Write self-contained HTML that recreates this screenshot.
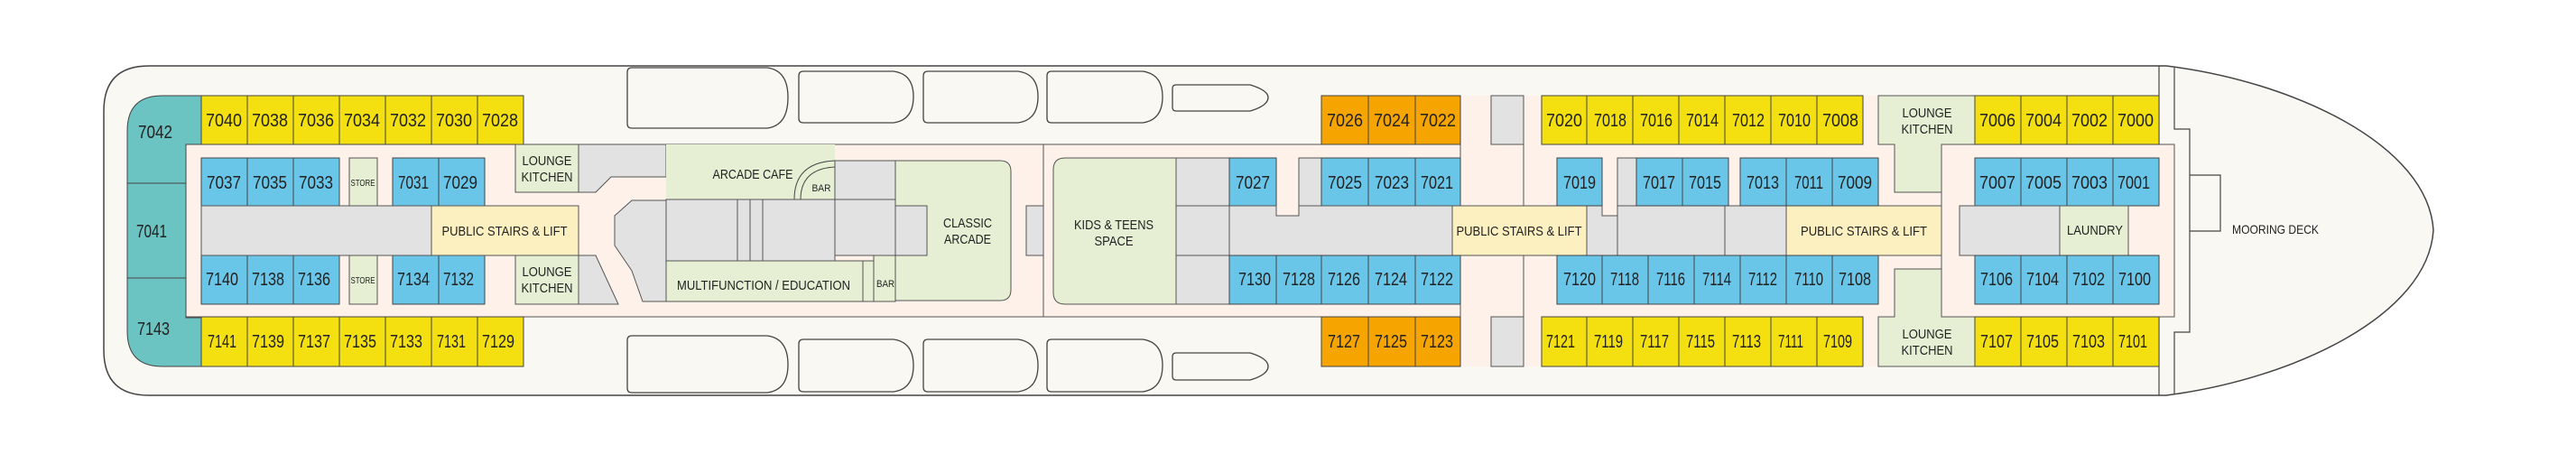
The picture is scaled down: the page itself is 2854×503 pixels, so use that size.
<!DOCTYPE html>
<html><head><meta charset="utf-8"><style>
html,body{margin:0;padding:0;background:#fff}
svg{display:block}
text{font-family:"Liberation Sans Narrow","Liberation Sans",sans-serif;fill:#222}
.r{font-size:20px;text-anchor:middle}
.l{font-size:15px;text-anchor:middle}
.s{font-size:10px;text-anchor:middle}
.y{fill:#f4e010;stroke:#444;stroke-width:1}
.b{fill:#6ac6e8;stroke:#444;stroke-width:1}
.o{fill:#f5a400;stroke:#444;stroke-width:1}
.g{fill:#e2e2e2;stroke:#555;stroke-width:1}
.gr{fill:#e6efd4;stroke:#555;stroke-width:1}
.st{fill:#fcefc0;stroke:#555;stroke-width:1}
.p{fill:#fdf1ea;stroke:#555;stroke-width:1}
.bt{fill:#faf8f2;stroke:#444;stroke-width:1.3}
</style></head><body>
<svg width="2854" height="503" viewBox="0 0 2854 503" xmlns="http://www.w3.org/2000/svg">
<!-- hull -->
<path d="M165,73 H2400 C2540,90 2690,160 2696,255 C2690,350 2540,420 2400,438 H165 Q115,438 115,388 V123 Q115,73 165,73 Z" fill="#faf8f2" stroke="#444" stroke-width="1.5"/>
<line x1="2392" y1="73" x2="2392" y2="438" stroke="#444" stroke-width="1.2"/>
<path d="M2409,75 V143 H2426 V368 H2409 V436" fill="none" stroke="#444" stroke-width="1.2"/>
<path d="M2426,194 H2460 V256 H2426" fill="none" stroke="#444" stroke-width="1.2"/>
<text class="l" x="2521" y="259" textLength="96" lengthAdjust="spacingAndGlyphs" style="font-size:14px">MOORING DECK</text>

<!-- lifeboats top -->
<path class="bt" d="M700,75 H850 Q873,78 873,108 Q873,139 850,142 H700 Q695,142 695,137 V80 Q695,75 700,75 Z"/>
<path class="bt" d="M890,79 H990 Q1012,82 1012,107 Q1012,133 990,136 H890 Q885,136 885,131 V84 Q885,79 890,79 Z"/>
<path class="bt" d="M1028,79 H1128 Q1150,82 1150,107 Q1150,133 1128,136 H1028 Q1023,136 1023,131 V84 Q1023,79 1028,79 Z"/>
<path class="bt" d="M1165,79 H1266 Q1288,82 1288,107 Q1288,133 1266,136 H1165 Q1160,136 1160,131 V84 Q1160,79 1165,79 Z"/>
<path class="bt" d="M1303,94 H1385 Q1405,100 1405,108 Q1405,117 1385,123 H1303 Q1299,123 1299,119 V98 Q1299,94 1303,94 Z"/>
<!-- lifeboats bottom -->
<path class="bt" d="M700,372 H850 Q873,375 873,404 Q873,432 850,435 H700 Q695,435 695,430 V377 Q695,372 700,372 Z"/>
<path class="bt" d="M890,376 H990 Q1012,379 1012,405 Q1012,431 990,434 H890 Q885,434 885,429 V381 Q885,376 890,376 Z"/>
<path class="bt" d="M1028,376 H1128 Q1150,379 1150,405 Q1150,431 1128,434 H1028 Q1023,434 1023,429 V381 Q1023,376 1028,376 Z"/>
<path class="bt" d="M1165,376 H1266 Q1288,379 1288,405 Q1288,431 1266,434 H1165 Q1160,434 1160,429 V381 Q1160,376 1165,376 Z"/>
<path class="bt" d="M1303,391 H1385 Q1405,397 1405,406 Q1405,415 1385,421 H1303 Q1299,421 1299,417 V395 Q1299,391 1303,391 Z"/>

<!-- corridor peach -->
<rect class="p" x="206" y="160" width="1945" height="191"/>
<rect x="1618" y="106" width="90" height="300" fill="#fdf1ea"/>
<rect x="2064" y="106" width="17" height="300" fill="#fdf1ea"/>
<line x1="1618" y1="106" x2="1618" y2="406" stroke="#555"/>
<line x1="1688" y1="106" x2="1688" y2="406" stroke="#555"/>
<line x1="1156" y1="160" x2="1156" y2="351" stroke="#555"/>
<rect class="p" x="2151" y="160" width="258" height="191"/>

<!-- teal aft -->
<path d="M180,106 H223 V160 H206 V352 H223 V406 H180 Q141,406 141,367 V145 Q141,106 180,106 Z" fill="#6cc4c2" stroke="#444"/>
<line x1="141" y1="203" x2="206" y2="203" stroke="#444"/>
<line x1="141" y1="308" x2="206" y2="308" stroke="#444"/>
<text class="r" x="172" y="153" textLength="38" lengthAdjust="spacingAndGlyphs">7042</text>
<text class="r" x="168" y="263" textLength="34" lengthAdjust="spacingAndGlyphs">7041</text>
<text class="r" x="170" y="371" textLength="36" lengthAdjust="spacingAndGlyphs">7143</text>

<!-- left yellow rows -->
<g>
<rect class="y" x="223" y="106" width="51" height="54"/><text class="r" x="248" y="140" textLength="40" lengthAdjust="spacingAndGlyphs">7040</text>
<rect class="y" x="274" y="106" width="51" height="54"/><text class="r" x="299" y="140" textLength="40" lengthAdjust="spacingAndGlyphs">7038</text>
<rect class="y" x="325" y="106" width="51" height="54"/><text class="r" x="350" y="140" textLength="40" lengthAdjust="spacingAndGlyphs">7036</text>
<rect class="y" x="376" y="106" width="51" height="54"/><text class="r" x="401" y="140" textLength="40" lengthAdjust="spacingAndGlyphs">7034</text>
<rect class="y" x="427" y="106" width="51" height="54"/><text class="r" x="452" y="140" textLength="40" lengthAdjust="spacingAndGlyphs">7032</text>
<rect class="y" x="478" y="106" width="51" height="54"/><text class="r" x="503" y="140" textLength="40" lengthAdjust="spacingAndGlyphs">7030</text>
<rect class="y" x="529" y="106" width="51" height="54"/><text class="r" x="554" y="140" textLength="40" lengthAdjust="spacingAndGlyphs">7028</text>

<rect class="y" x="223" y="351" width="51" height="55"/><text class="r" x="246" y="385" textLength="32" lengthAdjust="spacingAndGlyphs">7141</text>
<rect class="y" x="274" y="351" width="51" height="55"/><text class="r" x="297" y="385" textLength="36" lengthAdjust="spacingAndGlyphs">7139</text>
<rect class="y" x="325" y="351" width="51" height="55"/><text class="r" x="348" y="385" textLength="36" lengthAdjust="spacingAndGlyphs">7137</text>
<rect class="y" x="376" y="351" width="51" height="55"/><text class="r" x="399" y="385" textLength="36" lengthAdjust="spacingAndGlyphs">7135</text>
<rect class="y" x="427" y="351" width="51" height="55"/><text class="r" x="450" y="385" textLength="36" lengthAdjust="spacingAndGlyphs">7133</text>
<rect class="y" x="478" y="351" width="51" height="55"/><text class="r" x="500" y="385" textLength="32" lengthAdjust="spacingAndGlyphs">7131</text>
<rect class="y" x="529" y="351" width="51" height="55"/><text class="r" x="552" y="385" textLength="36" lengthAdjust="spacingAndGlyphs">7129</text>
</g>

<!-- left blue rows -->
<g>
<rect class="b" x="223" y="175" width="51" height="53"/><text class="r" x="248" y="209" textLength="38" lengthAdjust="spacingAndGlyphs">7037</text>
<rect class="b" x="274" y="175" width="51" height="53"/><text class="r" x="299" y="209" textLength="38" lengthAdjust="spacingAndGlyphs">7035</text>
<rect class="b" x="325" y="175" width="51" height="53"/><text class="r" x="350" y="209" textLength="38" lengthAdjust="spacingAndGlyphs">7033</text>
<rect class="gr" x="387" y="175" width="31" height="53"/><text class="s" x="402" y="206" textLength="27" lengthAdjust="spacingAndGlyphs">STORE</text>
<rect class="b" x="435" y="175" width="51" height="53"/><text class="r" x="458" y="209" textLength="34" lengthAdjust="spacingAndGlyphs">7031</text>
<rect class="b" x="486" y="175" width="51" height="53"/><text class="r" x="510" y="209" textLength="38" lengthAdjust="spacingAndGlyphs">7029</text>

<rect class="b" x="223" y="283" width="51" height="54"/><text class="r" x="246" y="316" textLength="36" lengthAdjust="spacingAndGlyphs">7140</text>
<rect class="b" x="274" y="283" width="51" height="54"/><text class="r" x="297" y="316" textLength="36" lengthAdjust="spacingAndGlyphs">7138</text>
<rect class="b" x="325" y="283" width="51" height="54"/><text class="r" x="348" y="316" textLength="36" lengthAdjust="spacingAndGlyphs">7136</text>
<rect class="gr" x="387" y="283" width="31" height="54"/><text class="s" x="402" y="314" textLength="27" lengthAdjust="spacingAndGlyphs">STORE</text>
<rect class="b" x="435" y="283" width="51" height="54"/><text class="r" x="458" y="316" textLength="36" lengthAdjust="spacingAndGlyphs">7134</text>
<rect class="b" x="486" y="283" width="51" height="54"/><text class="r" x="508" y="316" textLength="34" lengthAdjust="spacingAndGlyphs">7132</text>
</g>

<!-- left middle -->
<rect class="g" x="223" y="228" width="255" height="55"/>
<rect class="st" x="478" y="228" width="163" height="55"/>
<text class="l" x="559" y="261" textLength="139" lengthAdjust="spacingAndGlyphs">PUBLIC STAIRS &amp; LIFT</text>

<rect class="gr" x="571" y="160" width="70" height="53"/>
<text class="l" x="606" y="183" textLength="55" lengthAdjust="spacingAndGlyphs">LOUNGE</text>
<text class="l" x="606" y="201" textLength="57" lengthAdjust="spacingAndGlyphs">KITCHEN</text>
<rect class="gr" x="571" y="283" width="70" height="54"/>
<text class="l" x="606" y="306" textLength="55" lengthAdjust="spacingAndGlyphs">LOUNGE</text>
<text class="l" x="606" y="324" textLength="57" lengthAdjust="spacingAndGlyphs">KITCHEN</text>
<path class="g" d="M641,160 H738 V196 H677 L660,213 H641 Z"/>
<path class="g" d="M641,283 H660 L685,337 H641 Z"/>

<!-- arcade area -->
<rect class="gr" x="738" y="160" width="187" height="61" style="stroke:none"/>
<text class="l" x="834" y="198" textLength="89" lengthAdjust="spacingAndGlyphs">ARCADE CAFE</text>
<path d="M880,221 Q880,180 925,178" fill="none" stroke="#444"/>
<path d="M887,221 Q887,187 925,185" fill="none" stroke="#444"/>
<text class="s" x="910" y="212" style="font-size:11px" textLength="21" lengthAdjust="spacingAndGlyphs">BAR</text>
<rect class="g" x="925" y="178" width="67" height="43"/>
<path class="gr" d="M992,178 H1108 Q1120,178 1120,190 V321 Q1120,333 1108,333 H992 Z"/>
<rect class="g" x="992" y="228" width="35" height="55"/>
<text class="l" x="1072" y="252" textLength="54" lengthAdjust="spacingAndGlyphs">CLASSIC</text>
<text class="l" x="1072" y="270" textLength="52" lengthAdjust="spacingAndGlyphs">ARCADE</text>
<path class="g" d="M681,239 L700,222 H738 V334 H712 L700,300 L681,272 Z"/>
<rect class="g" x="738" y="221" width="187" height="68"/>
<line x1="817" y1="221" x2="817" y2="289" stroke="#555"/>
<line x1="831" y1="221" x2="831" y2="289" stroke="#555"/>
<line x1="845" y1="221" x2="845" y2="289" stroke="#555"/>
<rect class="g" x="925" y="221" width="67" height="62"/>
<rect class="gr" x="738" y="289" width="218" height="45"/>
<text class="l" x="846" y="321" textLength="192" lengthAdjust="spacingAndGlyphs">MULTIFUNCTION / EDUCATION</text>
<rect class="gr" x="956" y="289" width="12" height="45"/>
<rect class="gr" x="968" y="283" width="24" height="51"/>
<text class="s" x="981" y="318" style="font-size:11px" textLength="20" lengthAdjust="spacingAndGlyphs">BAR</text>

<rect class="g" x="1137" y="228" width="19" height="55"/>
<path class="gr" d="M1180,175 H1303 V337 H1180 Q1167,337 1167,324 V188 Q1167,175 1180,175 Z"/>
<text class="l" x="1234" y="254" textLength="88" lengthAdjust="spacingAndGlyphs">KIDS &amp; TEENS</text>
<text class="l" x="1234" y="272" textLength="43" lengthAdjust="spacingAndGlyphs">SPACE</text>
<rect class="g" x="1303" y="175" width="59" height="53"/>
<rect class="g" x="1303" y="228" width="59" height="55"/>
<rect class="g" x="1303" y="283" width="59" height="54"/>

<!-- mid section -->
<rect class="b" x="1362" y="175" width="52" height="53"/><text class="r" x="1388" y="209" textLength="38" lengthAdjust="spacingAndGlyphs">7027</text>
<rect class="g" x="1439" y="175" width="25" height="53"/>
<rect class="b" x="1464" y="175" width="52" height="53"/><text class="r" x="1490" y="209" textLength="38" lengthAdjust="spacingAndGlyphs">7025</text>
<rect class="b" x="1516" y="175" width="52" height="53"/><text class="r" x="1542" y="209" textLength="38" lengthAdjust="spacingAndGlyphs">7023</text>
<rect class="b" x="1568" y="175" width="50" height="53"/><text class="r" x="1592" y="209" textLength="36" lengthAdjust="spacingAndGlyphs">7021</text>
<path class="g" d="M1362,228 H1414 V239 H1439 V228 H1609 V283 H1362 Z"/>
<rect class="st" x="1609" y="228" width="149" height="55"/>
<text class="l" x="1683" y="261" textLength="139" lengthAdjust="spacingAndGlyphs">PUBLIC STAIRS &amp; LIFT</text>
<path class="g" d="M1758,228 H1775 V239 H1792 V283 H1758 Z"/>
<rect class="g" x="1792" y="228" width="119" height="55"/>
<rect class="g" x="1911" y="228" width="68" height="55"/>
<rect class="st" x="1979" y="228" width="172" height="55"/>
<text class="l" x="2065" y="261" textLength="140" lengthAdjust="spacingAndGlyphs">PUBLIC STAIRS &amp; LIFT</text>

<rect class="b" x="1725" y="175" width="50" height="53"/><text class="r" x="1750" y="209" textLength="36" lengthAdjust="spacingAndGlyphs">7019</text>
<rect class="g" x="1792" y="175" width="21" height="53"/>
<rect class="b" x="1813" y="175" width="51" height="53"/><text class="r" x="1838" y="209" textLength="36" lengthAdjust="spacingAndGlyphs">7017</text>
<rect class="b" x="1864" y="175" width="51" height="53"/><text class="r" x="1889" y="209" textLength="36" lengthAdjust="spacingAndGlyphs">7015</text>
<rect class="b" x="1928" y="175" width="51" height="53"/><text class="r" x="1953" y="209" textLength="36" lengthAdjust="spacingAndGlyphs">7013</text>
<rect class="b" x="1979" y="175" width="51" height="53"/><text class="r" x="2004" y="209" textLength="32" lengthAdjust="spacingAndGlyphs">7011</text>
<rect class="b" x="2030" y="175" width="51" height="53"/><text class="r" x="2055" y="209" textLength="38" lengthAdjust="spacingAndGlyphs">7009</text>

<rect class="b" x="1362" y="283" width="52" height="54"/><text class="r" x="1390" y="316" textLength="36" lengthAdjust="spacingAndGlyphs">7130</text>
<rect class="b" x="1414" y="283" width="50" height="54"/><text class="r" x="1439" y="316" textLength="36" lengthAdjust="spacingAndGlyphs">7128</text>
<rect class="b" x="1464" y="283" width="52" height="54"/><text class="r" x="1489" y="316" textLength="36" lengthAdjust="spacingAndGlyphs">7126</text>
<rect class="b" x="1516" y="283" width="52" height="54"/><text class="r" x="1541" y="316" textLength="36" lengthAdjust="spacingAndGlyphs">7124</text>
<rect class="b" x="1568" y="283" width="50" height="54"/><text class="r" x="1592" y="316" textLength="36" lengthAdjust="spacingAndGlyphs">7122</text>
<rect class="b" x="1725" y="283" width="50" height="54"/><text class="r" x="1750" y="316" textLength="36" lengthAdjust="spacingAndGlyphs">7120</text>
<rect class="b" x="1775" y="283" width="51" height="54"/><text class="r" x="1800" y="316" textLength="32" lengthAdjust="spacingAndGlyphs">7118</text>
<rect class="b" x="1826" y="283" width="51" height="54"/><text class="r" x="1851" y="316" textLength="32" lengthAdjust="spacingAndGlyphs">7116</text>
<rect class="b" x="1877" y="283" width="51" height="54"/><text class="r" x="1902" y="316" textLength="32" lengthAdjust="spacingAndGlyphs">7114</text>
<rect class="b" x="1928" y="283" width="51" height="54"/><text class="r" x="1953" y="316" textLength="32" lengthAdjust="spacingAndGlyphs">7112</text>
<rect class="b" x="1979" y="283" width="51" height="54"/><text class="r" x="2004" y="316" textLength="32" lengthAdjust="spacingAndGlyphs">7110</text>
<rect class="b" x="2030" y="283" width="51" height="54"/><text class="r" x="2055" y="316" textLength="36" lengthAdjust="spacingAndGlyphs">7108</text>

<!-- mid orange/yellow -->
<rect class="o" x="1464" y="106" width="52" height="54"/><text class="r" x="1490" y="140" textLength="40" lengthAdjust="spacingAndGlyphs">7026</text>
<rect class="o" x="1516" y="106" width="52" height="54"/><text class="r" x="1542" y="140" textLength="40" lengthAdjust="spacingAndGlyphs">7024</text>
<rect class="o" x="1568" y="106" width="50" height="54"/><text class="r" x="1593" y="140" textLength="40" lengthAdjust="spacingAndGlyphs">7022</text>
<rect class="o" x="1464" y="351" width="52" height="55"/><text class="r" x="1489" y="385" textLength="36" lengthAdjust="spacingAndGlyphs">7127</text>
<rect class="o" x="1516" y="351" width="52" height="55"/><text class="r" x="1541" y="385" textLength="36" lengthAdjust="spacingAndGlyphs">7125</text>
<rect class="o" x="1568" y="351" width="50" height="55"/><text class="r" x="1592" y="385" textLength="36" lengthAdjust="spacingAndGlyphs">7123</text>
<rect class="g" x="1652" y="106" width="36" height="54"/>
<rect class="g" x="1652" y="351" width="36" height="55"/>

<rect class="y" x="1708" y="106" width="50" height="54"/><text class="r" x="1733" y="140" textLength="40" lengthAdjust="spacingAndGlyphs">7020</text>
<rect class="y" x="1758" y="106" width="51" height="54"/><text class="r" x="1784" y="140" textLength="36" lengthAdjust="spacingAndGlyphs">7018</text>
<rect class="y" x="1809" y="106" width="51" height="54"/><text class="r" x="1835" y="140" textLength="36" lengthAdjust="spacingAndGlyphs">7016</text>
<rect class="y" x="1860" y="106" width="51" height="54"/><text class="r" x="1886" y="140" textLength="36" lengthAdjust="spacingAndGlyphs">7014</text>
<rect class="y" x="1911" y="106" width="51" height="54"/><text class="r" x="1937" y="140" textLength="36" lengthAdjust="spacingAndGlyphs">7012</text>
<rect class="y" x="1962" y="106" width="51" height="54"/><text class="r" x="1988" y="140" textLength="36" lengthAdjust="spacingAndGlyphs">7010</text>
<rect class="y" x="2013" y="106" width="51" height="54"/><text class="r" x="2039" y="140" textLength="40" lengthAdjust="spacingAndGlyphs">7008</text>

<rect class="y" x="1708" y="351" width="50" height="55"/><text class="r" x="1729" y="385" textLength="32" lengthAdjust="spacingAndGlyphs">7121</text>
<rect class="y" x="1758" y="351" width="51" height="55"/><text class="r" x="1782" y="385" textLength="32" lengthAdjust="spacingAndGlyphs">7119</text>
<rect class="y" x="1809" y="351" width="51" height="55"/><text class="r" x="1833" y="385" textLength="32" lengthAdjust="spacingAndGlyphs">7117</text>
<rect class="y" x="1860" y="351" width="51" height="55"/><text class="r" x="1884" y="385" textLength="32" lengthAdjust="spacingAndGlyphs">7115</text>
<rect class="y" x="1911" y="351" width="51" height="55"/><text class="r" x="1935" y="385" textLength="32" lengthAdjust="spacingAndGlyphs">7113</text>
<rect class="y" x="1962" y="351" width="51" height="55"/><text class="r" x="1984" y="385" textLength="28" lengthAdjust="spacingAndGlyphs">7111</text>
<rect class="y" x="2013" y="351" width="51" height="55"/><text class="r" x="2036" y="385" textLength="32" lengthAdjust="spacingAndGlyphs">7109</text>

<!-- right lounge kitchens -->
<path class="gr" d="M2081,106 H2188 V160 H2151 V213 H2099 V160 H2081 Z"/>
<text class="l" x="2135" y="130" textLength="55" lengthAdjust="spacingAndGlyphs">LOUNGE</text>
<text class="l" x="2135" y="148" textLength="57" lengthAdjust="spacingAndGlyphs">KITCHEN</text>
<path class="gr" d="M2099,298 H2151 V351 H2188 V406 H2081 V351 H2099 Z"/>
<text class="l" x="2135" y="375" textLength="55" lengthAdjust="spacingAndGlyphs">LOUNGE</text>
<text class="l" x="2135" y="393" textLength="57" lengthAdjust="spacingAndGlyphs">KITCHEN</text>

<!-- forward block -->
<rect class="y" x="2188" y="106" width="51" height="54"/><text class="r" x="2213" y="140" textLength="40" lengthAdjust="spacingAndGlyphs">7006</text>
<rect class="y" x="2239" y="106" width="51" height="54"/><text class="r" x="2264" y="140" textLength="40" lengthAdjust="spacingAndGlyphs">7004</text>
<rect class="y" x="2290" y="106" width="51" height="54"/><text class="r" x="2315" y="140" textLength="40" lengthAdjust="spacingAndGlyphs">7002</text>
<rect class="y" x="2341" y="106" width="51" height="54"/><text class="r" x="2366" y="140" textLength="40" lengthAdjust="spacingAndGlyphs">7000</text>
<rect class="b" x="2188" y="175" width="51" height="53"/><text class="r" x="2213" y="209" textLength="40" lengthAdjust="spacingAndGlyphs">7007</text>
<rect class="b" x="2239" y="175" width="51" height="53"/><text class="r" x="2264" y="209" textLength="40" lengthAdjust="spacingAndGlyphs">7005</text>
<rect class="b" x="2290" y="175" width="51" height="53"/><text class="r" x="2315" y="209" textLength="40" lengthAdjust="spacingAndGlyphs">7003</text>
<rect class="b" x="2341" y="175" width="51" height="53"/><text class="r" x="2364" y="209" textLength="36" lengthAdjust="spacingAndGlyphs">7001</text>
<rect class="g" x="2171" y="228" width="111" height="55"/>
<rect class="gr" x="2282" y="228" width="76" height="55"/>
<text class="l" x="2321" y="260" textLength="62" lengthAdjust="spacingAndGlyphs">LAUNDRY</text>
<rect class="b" x="2188" y="283" width="51" height="54"/><text class="r" x="2212" y="316" textLength="36" lengthAdjust="spacingAndGlyphs">7106</text>
<rect class="b" x="2239" y="283" width="51" height="54"/><text class="r" x="2263" y="316" textLength="36" lengthAdjust="spacingAndGlyphs">7104</text>
<rect class="b" x="2290" y="283" width="51" height="54"/><text class="r" x="2314" y="316" textLength="36" lengthAdjust="spacingAndGlyphs">7102</text>
<rect class="b" x="2341" y="283" width="51" height="54"/><text class="r" x="2365" y="316" textLength="36" lengthAdjust="spacingAndGlyphs">7100</text>
<rect class="y" x="2188" y="351" width="51" height="55"/><text class="r" x="2212" y="385" textLength="36" lengthAdjust="spacingAndGlyphs">7107</text>
<rect class="y" x="2239" y="351" width="51" height="55"/><text class="r" x="2263" y="385" textLength="36" lengthAdjust="spacingAndGlyphs">7105</text>
<rect class="y" x="2290" y="351" width="51" height="55"/><text class="r" x="2314" y="385" textLength="36" lengthAdjust="spacingAndGlyphs">7103</text>
<rect class="y" x="2341" y="351" width="51" height="55"/><text class="r" x="2363" y="385" textLength="32" lengthAdjust="spacingAndGlyphs">7101</text>
</svg>
</body></html>
